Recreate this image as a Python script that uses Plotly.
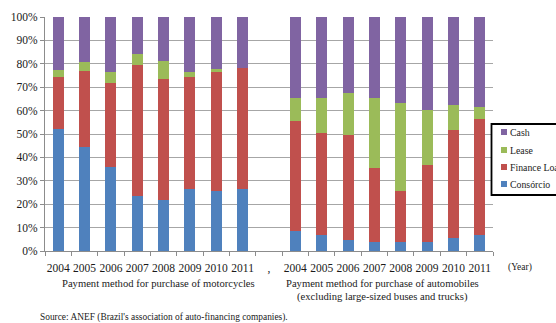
import plotly.graph_objects as go

# Payment method shares (%), 2004-2011
years = ["2004", "2005", "2006", "2007", "2008", "2009", "2010", "2011"]

moto_consorcio = [52.0, 44.5, 35.9, 23.6, 21.9, 26.4, 25.6, 26.4]
moto_finance = [22.5, 32.3, 35.7, 56.0, 51.7, 48.0, 51.1, 52.0]
moto_lease = [3.0, 3.8, 5.1, 4.8, 7.7, 2.3, 0.9, 0.0]
moto_cash = [22.5, 19.4, 23.3, 15.6, 18.7, 23.3, 22.4, 21.6]

auto_consorcio = [8.4, 6.7, 4.7, 3.9, 3.9, 3.9, 5.6, 6.7]
auto_finance = [47.2, 43.7, 44.9, 31.7, 21.7, 32.8, 46.3, 49.7]
auto_lease = [10.0, 15.2, 18.0, 30.0, 37.7, 23.7, 10.5, 5.2]
auto_cash = [34.4, 34.4, 32.4, 34.4, 36.7, 39.6, 37.6, 38.4]

series_names = ["Consórcio", "Finance Loan", "Lease", "Cash"]
colors = ["#4f81bd", "#c0504d", "#9bbb59", "#8064a2"]

moto_x = list(range(0, 8))
auto_x = list(range(9, 17))
xs = moto_x + auto_x
tick_vals = moto_x + [8] + auto_x
tick_text = years + [","] + years

series_values = [
    moto_consorcio + auto_consorcio,
    moto_finance + auto_finance,
    moto_lease + auto_lease,
    moto_cash + auto_cash,
]

FONT = "Liberation Serif"
TXT = "#1a1a1a"

# plot area in pixels
W, H = 556, 323
L, R, T, B = 45, 63, 17, 72
PW, PH = W - L - R, H - T - B


def px_x(px):
    return (px - L) / PW


def px_y(py):
    return (H - B - py) / PH


fig = go.Figure()
for name, vals, col in zip(series_names, series_values, colors):
    fig.add_trace(go.Bar(
        x=xs, y=vals, name=name, marker=dict(color=col, line=dict(width=0)),
        width=0.42, showlegend=False,
    ))

annotations = [
    dict(text="Payment method for purchase of motorcycles", x=3.8, xref="x",
         y=px_y(283), yref="paper", showarrow=False, xanchor="center", yanchor="middle",
         font=dict(family=FONT, size=10.6, color=TXT)),
    dict(text="Payment method for purchase of automobiles", x=12.3, xref="x",
         y=px_y(283), yref="paper", showarrow=False, xanchor="center", yanchor="middle",
         font=dict(family=FONT, size=10.6, color=TXT)),
    dict(text="(excluding large-sized buses and trucks)", x=12.3, xref="x",
         y=px_y(297), yref="paper", showarrow=False, xanchor="center", yanchor="middle",
         font=dict(family=FONT, size=10.6, color=TXT)),
    dict(text="(Year)", x=px_x(520), xref="paper", y=px_y(267), yref="paper",
         showarrow=False, xanchor="center", yanchor="middle",
         font=dict(family=FONT, size=9.5, color=TXT)),
    dict(text="Source: ANEF (Brazil's association of auto-financing companies).",
         x=px_x(38), xref="paper", y=px_y(318), yref="paper", showarrow=False,
         xanchor="left", yanchor="middle", font=dict(family=FONT, size=9.4, color=TXT)),
]

# legend box, drawn top to bottom: Cash, Lease, Finance Loan, Consórcio
shapes = [dict(type="rect", xref="paper", yref="paper",
               x0=px_x(491.5), x1=px_x(600), y0=px_y(124), y1=px_y(195),
               line=dict(color="#000000", width=1.8), fillcolor="white")]
legend_rows = [132, 150, 167, 184]
for row_y, name, col in zip(legend_rows, series_names[::-1], colors[::-1]):
    shapes.append(dict(type="rect", xref="paper", yref="paper",
                       x0=px_x(501), x1=px_x(507), y0=px_y(row_y - 3), y1=px_y(row_y + 3),
                       line=dict(width=0), fillcolor=col))
    annotations.append(dict(text=name, x=px_x(507.5), xref="paper", y=px_y(row_y), yref="paper",
                            showarrow=False, xanchor="left", yanchor="middle",
                            font=dict(family=FONT, size=9.8, color=TXT)))

fig.update_layout(
    width=W, height=H,
    margin=dict(l=L, r=R, t=T, b=B, autoexpand=False),
    barmode="stack",
    plot_bgcolor="white", paper_bgcolor="white",
    showlegend=False,
    annotations=annotations,
    shapes=shapes,
    font=dict(family=FONT, size=11, color=TXT),
)
fig.update_xaxes(
    range=[-0.5, 16.5], tickmode="array", tickvals=tick_vals, ticktext=tick_text,
    ticks="", showgrid=False, showline=True, linecolor="#8c8c8c", linewidth=1,
    tickfont=dict(family=FONT, size=11.5, color=TXT), ticklabelstandoff=6,
    minor=dict(tickmode="array", tickvals=[i - 0.5 for i in range(18)], ticks="outside",
               ticklen=4, tickcolor="#8c8c8c", showgrid=False),
    zeroline=False,
)
fig.update_yaxes(
    range=[0, 100], tickmode="array", tickvals=list(range(0, 101, 10)),
    ticktext=[f"{v}%" for v in range(0, 101, 10)],
    ticks="outside", ticklen=4, tickcolor="#8c8c8c",
    showgrid=True, gridcolor="#a6a6a6", gridwidth=1,
    showline=True, linecolor="#8c8c8c", linewidth=1, zeroline=False,
    tickfont=dict(family=FONT, size=11.5, color=TXT),
)

fig.write_html("out.html")
